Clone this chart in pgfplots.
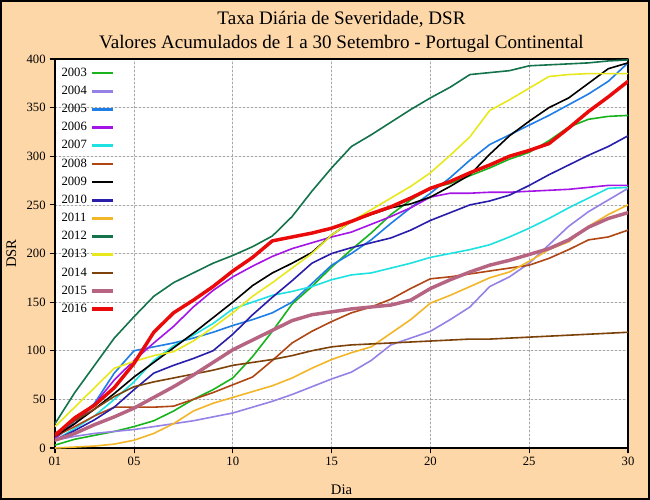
\documentclass[border=0pt]{standalone}
\usepackage{fontspec}
\setmainfont{Liberation Serif}
\usepackage{pgfplots}
\usepackage{pgfplotstable}
\pgfplotsset{compat=1.18}
\definecolor{bg}{RGB}{253,215,168}
\definecolor{c03}{RGB}{24,180,30}
\definecolor{c04}{RGB}{150,130,230}
\definecolor{c05}{RGB}{30,125,230}
\definecolor{c06}{RGB}{165,20,230}
\definecolor{c07}{RGB}{30,225,225}
\definecolor{c08}{RGB}{175,70,20}
\definecolor{c09}{RGB}{0,0,0}
\definecolor{c10}{RGB}{40,30,170}
\definecolor{c11}{RGB}{242,182,40}
\definecolor{c12}{RGB}{20,115,75}
\definecolor{c13}{RGB}{232,232,30}
\definecolor{c14}{RGB}{125,65,10}
\definecolor{c15}{RGB}{182,100,130}
\definecolor{c16}{RGB}{235,10,10}
\pgfplotstableread{
d a03 a04 a05 a06 a07 a08 a09 a10 a11 a12 a13 a14 a15 a16
1  3 8 10 10 8 12 12 8 0 25 22 15 8 13
2  9 12 28 25 20 22 25 18 1 57 42 28 15 31
3  13 15 46 45 33 33 40 29 2 85 62 40 24 44
4  17 17 77 70 50 42 56 42 4 113 82 53 32 62
5  22 19 100 90 68 42 73 60 8 135 89 63 41 87
6  28 22 104 108 90 42 88 77 15 156 95 68 52 119
7  38 25 108 125 105 43 103 85 25 170 99 72 63 139
8  50 28 113 145 116 50 118 92 38 180 110 76 75 152
9  60 32 119 162 128 57 134 100 46 190 124 80 88 166
10 72 36 126 176 143 65 150 117 52 198 139 85 101 182
11 94 42 132 187 150 73 167 137 58 207 156 88 111 196
12 120 48 139 197 157 90 180 155 64 218 170 91 121 213
13 148 55 150 205 161 108 190 172 72 238 185 95 131 217
14 166 63 169 211 166 120 201 190 82 264 200 100 137 221
15 186 71 188 217 173 130 219 200 91 288 219 104 140 226
16 204 78 200 222 178 139 233 206 98 310 233 106 143 233
17 221 90 214 230 180 145 240 211 104 322 245 107 145 241
18 240 106 231 238 185 153 247 216 118 335 257 108 147 248
19 255 113 247 247 190 164 251 224 132 348 269 109 152 257
20 267 120 262 258 196 174 258 234 149 360 283 110 164 267
21 272 132 278 262 200 176 269 242 157 371 301 111 173 274
22 280 145 296 262 204 179 281 250 166 384 320 112 181 283
23 288 166 312 263 209 182 302 254 175 386 347 112 188 291
24 297 176 322 263 217 185 321 260 181 388 358 113 193 300
25 304 190 332 264 226 188 336 270 192 393 370 114 199 306
26 316 209 342 265 236 195 350 281 204 394 382 115 205 313
27 330 228 353 266 247 204 360 291 212 395 384 116 214 329
28 338 243 364 268 257 214 375 301 228 396 385 117 227 346
29 341 255 377 270 267 217 390 310 240 398 385 118 236 361
30 342 267 396 270 268 224 396 321 250 399 385 119 242 377
}\data
\begin{document}
\begin{tikzpicture}
\fill[bg] (-41.25pt,-39pt) rectangle (446.25pt,336pt);
\draw[line width=1.2pt] (-40.65pt,-38.4pt) rectangle (445.65pt,335.4pt);
\begin{axis}[
  at={(0,0)}, anchor=south west,
  scale only axis, width=429.75pt, height=291.75pt,
  xmin=1, xmax=30, ymin=0, ymax=400,
  axis background/.style={fill=white},
  axis line style={line width=0.9pt},
  xtick={1,5,10,15,20,25,30},
  xticklabels={01,05,10,15,20,25,30},
  ytick={0,50,...,400},
  tick align=outside, tick pos=left,
  major tick length=3.5pt,
  tick style={black, line width=0.8pt},
  grid=major,
  grid style={gray!70, dash pattern=on 1.5pt off 1.5pt, line width=0.5pt},
  ticklabel style={font=\fontsize{9.5}{11}\selectfont},
  /pgf/number format/assume math mode=true,
  xlabel={Dia}, ylabel={DSR},
  label style={font=\fontsize{11}{13}\selectfont},
  xlabel style={at={(axis description cs:0.5,-0.108)}, anchor=center},
  ylabel style={at={(axis description cs:-0.076,0.5)}, anchor=center},
  title={Taxa Diária de Severidade, DSR\\Valores Acumulados de 1 a 30 Setembro - Portugal Continental},
  title style={font=\fontsize{14.3}{18}\selectfont, align=center, at={(axis description cs:0.5,1)}, anchor=south, yshift=-4.5pt},
  legend style={draw=none, fill=none, at={(axis description cs:0.004,0.988)}, anchor=north west,
    font=\fontsize{9.5}{11}\selectfont, row sep=1.8pt, inner sep=1pt},
  legend cell align=left,
  legend plot pos=right,
  legend image code/.code={\draw[#1] (4pt,0pt) -- (20pt,0pt);},
  legend image post style={line width=2pt},
  line join=round, line cap=round,
]
\addplot[c03, line width=1.2pt] table[x=d,y=a03]{\data};
\addplot[c04, line width=1.2pt] table[x=d,y=a04]{\data};
\addplot[c05, line width=1.2pt] table[x=d,y=a05]{\data};
\addplot[c06, line width=1.2pt] table[x=d,y=a06]{\data};
\addplot[c07, line width=1.2pt] table[x=d,y=a07]{\data};
\addplot[c08, line width=1.2pt] table[x=d,y=a08]{\data};
\addplot[c09, line width=1.2pt] table[x=d,y=a09]{\data};
\addplot[c10, line width=1.2pt] table[x=d,y=a10]{\data};
\addplot[c11, line width=1.2pt] table[x=d,y=a11]{\data};
\addplot[c12, line width=1.2pt] table[x=d,y=a12]{\data};
\addplot[c13, line width=1.2pt] table[x=d,y=a13]{\data};
\addplot[c14, line width=1.2pt] table[x=d,y=a14]{\data};
\addplot[c15, line width=2.6pt, legend image post style={line width=3pt}] table[x=d,y=a15]{\data};
\addplot[c16, line width=2.6pt, legend image post style={line width=3pt}] table[x=d,y=a16]{\data};
\legend{2003,2004,2005,2006,2007,2008,2009,2010,2011,2012,2013,2014,2015,2016}
\end{axis}
\pgfresetboundingbox
\path (-41.25pt,-39pt) rectangle (446.25pt,336pt);
\end{tikzpicture}
\end{document}
